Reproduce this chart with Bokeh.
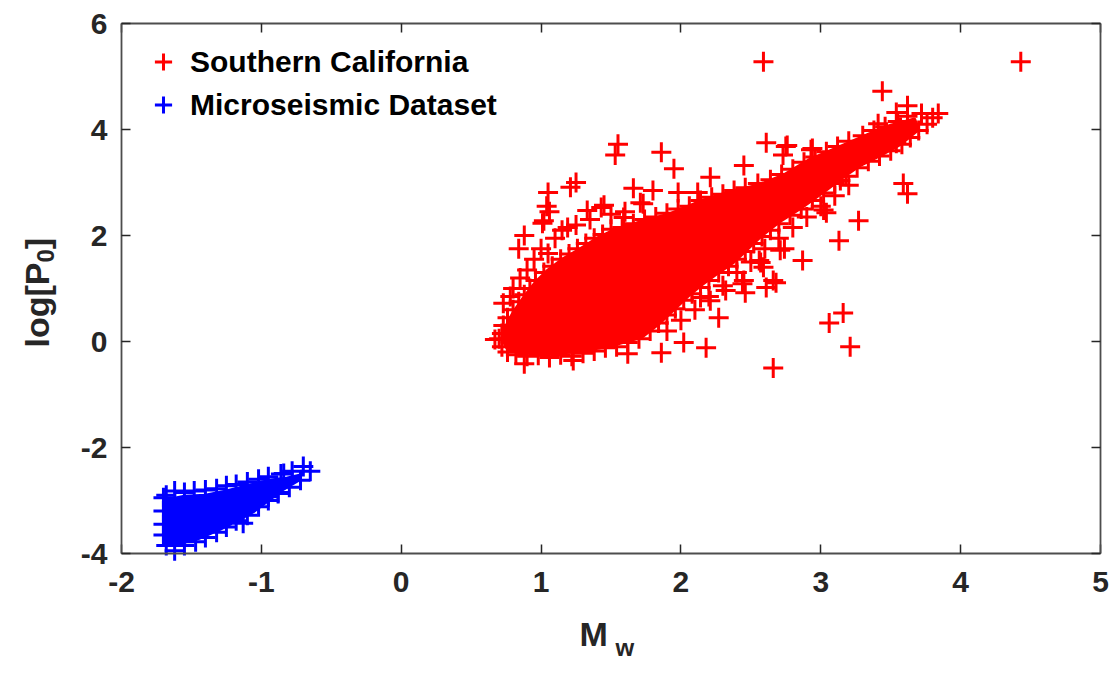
import math
from bokeh.plotting import figure
from bokeh.models import LinearAxis, Label, Legend, LegendItem, Range1d
from bokeh.embed import file_html
from bokeh.resources import INLINE

# ---------------- data ----------------
# dense, saturated core of the Southern California cloud (outline)
red_core_x = [0.72, 0.76, 0.85, 1.05, 1.26, 1.50, 1.72, 1.85, 1.95, 2.05, 2.14, 2.26, 2.38, 2.48,
              2.58, 2.70, 2.86, 3.02, 3.15, 3.28, 3.42, 3.57, 3.70,
              3.67, 3.50, 3.35, 3.14, 2.91, 2.74, 2.55, 2.38, 2.14, 1.91, 1.70, 1.52, 1.40, 1.28,
              1.15, 1.05, 0.96, 0.88, 0.80, 0.75]
red_core_y = [0.05, -0.15, -0.22, -0.22, -0.20, -0.08, 0.08, 0.35, 0.60, 0.85, 1.05, 1.28, 1.50, 1.75,
              2.00, 2.25, 2.52, 2.82, 3.08, 3.32, 3.50, 3.72, 4.00,
              4.20, 4.08, 3.92, 3.68, 3.42, 3.15, 2.95, 2.85, 2.65, 2.40, 2.25, 2.10, 1.95, 1.75,
              1.55, 1.35, 1.12, 0.85, 0.55, 0.30]

# individual Southern California events (edge of the cloud and outliers)
red_x = [0.70, 0.72, 0.76, 0.82, 0.90, 0.98, 1.06, 1.14, 1.22, 1.30, 1.38, 1.46, 1.54, 1.62, 1.70,
         1.78, 1.84, 1.90, 1.96, 2.02, 2.08, 2.14, 2.20, 2.27, 2.34, 2.40, 2.46, 2.52, 2.58, 2.64,
         2.70, 2.78, 2.86, 2.94, 3.02, 3.10, 3.18, 3.26, 3.34, 3.42, 3.50, 3.58, 3.64, 3.70, 3.76,
         3.80, 3.84,
         3.72, 3.62, 3.55, 3.46, 3.38, 3.30, 3.20, 3.12, 3.04, 2.96, 2.88, 2.80, 2.72, 2.64, 2.55,
         2.46, 2.38, 2.30, 2.22, 2.14, 2.06, 1.98, 1.90, 1.82, 1.74, 1.66, 1.58, 1.50, 1.44, 1.38,
         1.32, 1.26, 1.20, 1.14, 1.08, 1.02, 0.96, 0.92, 0.88, 0.84, 0.80, 0.76, 0.73, 0.72,
         2.59, 4.43, 3.44, 3.62, 3.54, 3.57, 3.41, 3.54, 1.55, 1.53, 1.86, 1.95, 2.21, 2.61, 2.75,
         2.73, 2.93, 2.45, 1.66, 1.80, 1.73, 1.98, 2.12, 1.45, 1.59, 1.33, 1.43, 1.71, 1.25, 1.21,
         1.05, 1.02, 1.01, 1.19, 0.88, 0.84, 1.05, 0.73, 0.67, 0.88, 1.23, 1.62, 1.86, 2.02, 2.18,
         2.27, 2.21, 2.14, 2.32, 2.44, 2.46, 2.61, 2.68, 2.56, 2.59, 2.74, 2.87, 2.71, 2.57, 2.45,
         2.66, 2.66, 3.06, 3.16, 3.21, 3.13, 3.27, 3.02, 3.04, 3.59, 3.62, 3.14, 2.76, 2.94, 1.04,
         1.06,
         0.95, 1.00, 1.10, 1.15, 1.25, 1.35, 1.50, 1.60, 0.90, 0.85, 0.80, 0.78,
         1.90, 2.00, 2.10, 2.20, 2.30, 2.40, 2.50, 2.60, 2.70, 2.80, 2.90, 3.00, 3.10, 3.20]
red_y = [0.05, -0.10, -0.20, -0.25, -0.28, -0.26, -0.30, -0.25, -0.28, -0.22, -0.18, -0.12, -0.10,
         -0.02, 0.05, 0.20, 0.35, 0.50, 0.62, 0.78, 0.90, 1.02, 1.15, 1.30, 1.42, 1.55, 1.70, 1.85,
         1.98, 2.10, 2.22, 2.38, 2.50, 2.66, 2.80, 2.98, 3.12, 3.28, 3.40, 3.50, 3.60, 3.72, 3.85,
         3.98, 4.10, 4.22, 4.30,
         4.30, 4.25, 4.15, 4.05, 3.98, 3.88, 3.78, 3.68, 3.58, 3.48, 3.38, 3.25, 3.15, 3.05, 2.98,
         2.90, 2.85, 2.78, 2.72, 2.66, 2.55, 2.50, 2.42, 2.35, 2.30, 2.22, 2.15, 2.12, 2.02, 1.95,
         1.85, 1.75, 1.65, 1.55, 1.42, 1.30, 1.15, 1.00, 0.88, 0.75, 0.60, 0.45, 0.30, 0.15,
         5.28, 5.28, 4.72, 4.45, 4.32, 4.04, 4.11, 3.74, 3.72, 3.52, 3.57, 3.26, 3.10, 3.75, 3.68,
         3.52, 3.62, 3.32, 2.89, 2.85, 2.60, 2.81, 2.81, 2.57, 2.34, 2.47, 2.53, 2.62, 3.00, 2.91,
         2.81, 2.28, 2.23, 2.15, 2.00, 1.75, 1.66, 0.72, 0.04, -0.42, -0.36, -0.23, -0.21, -0.02,
         -0.12, 0.45, 0.77, 0.83, 0.96, 1.09, 0.92, 1.02, 1.11, 1.53, 1.40, 1.75, 1.53, 1.72, 1.49,
         1.15, 1.15, -0.50, 0.35, 0.54, -0.10, 1.90, 2.28, 2.48, 2.43, 2.98, 2.79, 3.04, 3.70, 3.64,
         2.55, 2.45,
         1.55, 1.75, 1.95, 2.10, 2.20, 2.30, 2.40, 2.45, 1.35, 1.20, 1.00, 0.85,
         0.20, 0.40, 0.60, 0.85, 1.05, 1.30, 1.50, 1.75, 1.95, 2.15, 2.35, 2.55, 2.75, 2.95]

# dense core of the microseismic cloud (outline)
blue_core_x = [-1.70, -1.55, -1.40, -1.25, -1.10, -0.95, -0.82, -0.72, -0.72, -0.85, -0.95, -1.05,
               -1.15, -1.30, -1.45, -1.60, -1.70]
blue_core_y = [-3.00, -2.92, -2.90, -2.82, -2.72, -2.62, -2.58, -2.52, -2.60, -2.80, -3.00, -3.20,
               -3.35, -3.55, -3.72, -3.82, -3.80]

# individual microseismic events (edge of the cloud and outliers)
blue_x = [-1.70, -1.70, -1.70, -1.70, -1.68, -1.62, -1.55, -1.47, -1.40, -1.32, -1.25, -1.18, -1.10,
          -1.02, -0.95, -0.88, -0.80, -0.72, -0.65, -0.70, -0.78, -0.86, -0.95, -1.02, -1.10, -1.18,
          -1.25, -1.32, -1.40, -1.48, -1.55, -1.62, -1.68, -1.13, -0.88, -0.84, -0.95]
blue_y = [-2.95, -3.20, -3.45, -3.65, -3.85, -3.95, -3.85, -3.78, -3.70, -3.60, -3.50, -3.38, -3.28,
          -3.12, -3.00, -2.85, -2.75, -2.62, -2.45, -2.36, -2.45, -2.50, -2.55, -2.60, -2.65, -2.70,
          -2.72, -2.78, -2.80, -2.82, -2.85, -2.82, -2.90, -3.43, -2.87, -2.49, -2.93]

x_ticks = [-2, -1, 0, 1, 2, 3, 4, 5]
x_tick_labels = ["-2", "-1", "0", "1", "2", "3", "4", "5"]
y_ticks = [-4, -2, 0, 2, 4, 6]
y_tick_labels = ["-4", "-2", "0", "2", "4", "6"]
series_names = ["Southern California", "Microseismic Dataset"]

# ---------------- figure ----------------
FONT = "Liberation Sans"
AX = "#262626"
RED = "#FF0000"
BLUE = "#0000FF"

# axes box: x -2..5 at px 121..1100, y -4..6 at px 553..23 (frame = whole canvas)
W, H = 1112, 677
L, R, T, B = 121, 1100, 23, 553
ux = (R - L) / 7.0
uy = (B - T) / 10.0
p = figure(width=W, height=H, output_backend="svg", toolbar_location=None,
           x_range=Range1d(-2 - L / ux, 5 + (W - R) / ux),
           y_range=Range1d(-4 - (H - B) / uy, 6 + T / uy),
           min_border=0, x_axis_location=None, y_axis_location=None)
p.title.visible = False
p.outline_line_color = None
p.xgrid.visible = False
p.ygrid.visible = False
p.background_fill_color = "white"
p.border_fill_color = "white"


def make_axis(ticks, labels, loc, bounds, show_labels, standoff):
    ax = LinearAxis(fixed_location=loc, bounds=bounds)
    ax.ticker = ticks
    ax.axis_line_color = "#4d4d4d"
    ax.axis_line_width = 1.8
    ax.major_tick_line_color = AX
    ax.major_tick_line_width = 1.5
    ax.major_tick_in = 9
    ax.major_tick_out = 0
    ax.minor_tick_line_color = None
    if show_labels:
        ax.major_label_overrides = {t: s for t, s in zip(ticks, labels)}
        ax.major_label_text_font = FONT
        ax.major_label_text_font_size = "30px"
        ax.major_label_text_font_style = "bold"
        ax.major_label_text_color = AX
        ax.major_label_standoff = standoff
    else:
        ax.major_label_overrides = {t: "" for t in ticks}
        ax.major_label_text_color = None
        ax.major_label_standoff = 0
    return ax


p.add_layout(make_axis(x_ticks, x_tick_labels, -4, (-2, 5), True, 18), "below")
p.add_layout(make_axis(y_ticks, y_tick_labels, -2, (-4, 6), True, 14), "left")
p.add_layout(make_axis(x_ticks, x_tick_labels, 6, (-2, 5), False, 0), "above")
p.add_layout(make_axis(y_ticks, y_tick_labels, 5, (-4, 6), False, 0), "right")

# red cloud
p.patch(red_core_x, red_core_y, fill_color=RED, line_color=RED, line_width=3)
r_red = p.scatter(red_x, red_y, marker="cross", size=20, line_color=RED, line_width=3)
# blue cloud
p.patch(blue_core_x, blue_core_y, fill_color=BLUE, line_color=BLUE, line_width=3)
r_blue = p.scatter(blue_x, blue_y, marker="cross", size=20, line_color=BLUE, line_width=3)

legend = Legend(items=[LegendItem(label=series_names[0], renderers=[r_red]),
                       LegendItem(label=series_names[1], renderers=[r_blue])],
                location=(138, H - 126), glyph_width=50, glyph_height=43, spacing=0,
                padding=0, margin=0, label_standoff=2,
                label_text_font=FONT, label_text_font_size="30px", label_text_font_style="bold",
                label_text_color="black", background_fill_alpha=0, border_line_alpha=0)
p.add_layout(legend)


# axis titles with subscripts (positions in px converted to data units)
def lab(px, py, text, size, angle=0.0):
    p.add_layout(Label(x=-2 + (px - L) / ux, y=-4 + (B - py) / uy, text=text,
                       text_font=FONT, text_font_size=size, text_font_style="bold",
                       text_color=AX, text_align="left", text_baseline="alphabetic",
                       angle=angle))


lab(579, 633, "M", "34px")
lab(615, 647, "w", "24px")
lab(36, 347, "log[P", "34px", math.pi / 2)
lab(45, 262, "0", "24px", math.pi / 2)
lab(36, 248.7, "]", "34px", math.pi / 2)

open("out.html", "w").write(file_html(p, INLINE))
